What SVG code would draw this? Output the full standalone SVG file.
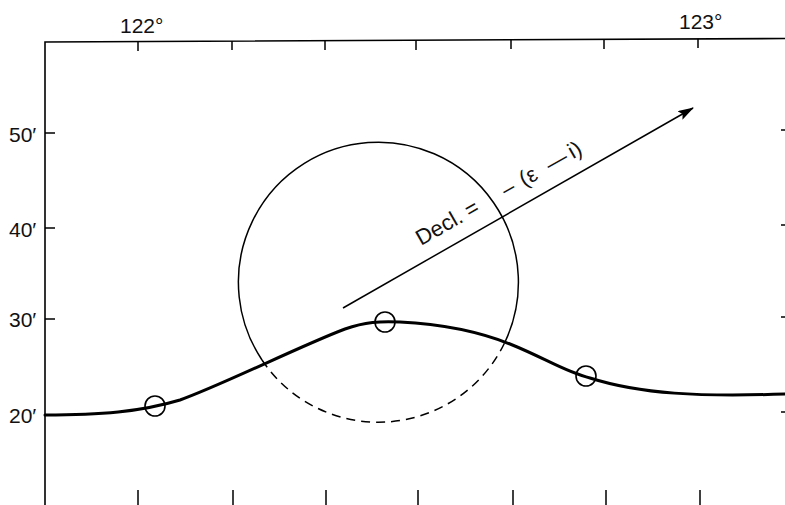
<svg xmlns="http://www.w3.org/2000/svg" width="785" height="505" viewBox="0 0 785 505">
<style>
.ax{stroke:#000;stroke-width:1.6;fill:none}
.tk{stroke:#000;stroke-width:1.5;fill:none}
.lbl{font-family:"Liberation Sans",Arial,sans-serif;font-size:21px;fill:#111}
.thin{stroke:#000;stroke-width:1.5;fill:none}
.curve{stroke:#000;stroke-width:3;fill:none;stroke-linecap:round}
.pt{stroke:#000;stroke-width:1.6;fill:none}
</style>
<defs>
<marker id="ah" markerWidth="16" markerHeight="10" refX="15" refY="5" orient="auto" markerUnits="userSpaceOnUse">
<path d="M0,0 L16,5 L0,10 L3,5 Z" fill="#000"/>
</marker>
</defs>
<rect width="785" height="505" fill="#fff"/>
<g id="axes">
<path class="ax" d="M45,505 L45,42 L785,38.5"/>
<path class="tk" d="M138,41.5 V51 M232,41 V50 M325,40.5 V50 M416,40 V50 M511,39.5 V49 M604,39 V49 M698,38.8 V48"/>
<path class="tk" d="M138,490 V505 M233,490 V505 M326,490 V505 M418,490 V505 M513,490 V505 M606,490 V505 M700,490 V505"/>
<path class="tk" d="M45,133 H55 M45,228 H55 M45,319 H55 M45,415 H55"/>
<path class="tk" d="M781,130 H785 M781,225 H785 M781,317 H785 M781,412 H785"/>
</g>
<g id="labels">
<text class="lbl" x="120" y="33">122°</text>
<text class="lbl" x="679" y="29">123°</text>
<text class="lbl" x="9" y="142">50′</text>
<text class="lbl" x="9" y="237">40′</text>
<text class="lbl" x="9" y="327">30′</text>
<text class="lbl" x="9" y="423">20′</text>
</g>
<g id="circle">
<path class="thin" d="M262,360 A140,140 0 1 1 505,342"/>
<path class="thin" stroke-dasharray="9,6" d="M262,360 A140,140 0 0 0 505,342"/>
</g>
<g id="track">
<path class="curve" d="M45,415 C100,415 140,412 180,400 C220,386 300,346 345,329 C365,322 380,321 400,322 C440,324 480,332 510,344 C545,358 565,372 590,378 C640,394 700,397 785,394"/>
</g>
<g id="points">
<circle class="pt" cx="155" cy="406" r="10"/>
<circle class="pt" cx="385" cy="322" r="10"/>
<circle class="pt" cx="586" cy="376" r="10"/>
</g>
<g id="connectors">
<line class="thin" x1="343" y1="308" x2="693" y2="108" marker-end="url(#ah)"/>
</g>
<g id="arrow-label">
<text class="lbl" style="font-size:22px" transform="translate(421,246) rotate(-29.7)"><tspan x="0">Decl. =</tspan><tspan x="98">–</tspan><tspan x="119">(ε</tspan><tspan x="149">—</tspan><tspan x="175">i)</tspan></text>
</g>
</svg>
